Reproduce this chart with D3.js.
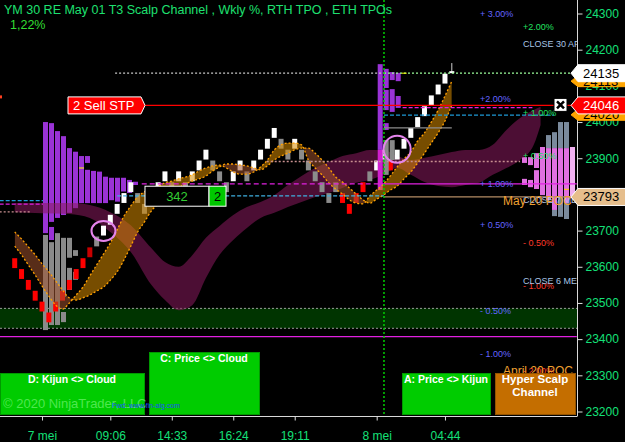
<!DOCTYPE html>
<html>
<head>
<meta charset="utf-8">
<script src="https://cdn.jsdelivr.net/npm/d3@7"></script>
<style>
    html, body { margin: 0; padding: 0; background: #000; }
    svg { display: block; font-family: Arial, "Liberation Sans", sans-serif; }
</style>
</head>
<body>
<script>
// ---------------- data ----------------
var yTicks = [24300, 24200, 24100, 24000, 23900, 23800, 23700, 23600, 23500, 23400, 23300, 23200]
var xTickBars = [4, 14, 23, 32, 41, 53, 63]
var xTickLabels = ['7 mei', '09:06', '14:33', '16:24', '19:11', '8 mei', '04:44']

// renko bricks, one per bar (bar 0 .. 64)
var brickLow = [23595, 23565, 23535, 23505, 23475, 23445, 23475, 23505, 23535, 23565,
    23595, 23625, 23655, 23685, 23715, 23745, 23775, 23805, 23775, 23745,
    23775, 23805, 23835, 23805, 23835, 23805, 23835, 23865, 23895, 23865,
    23835, 23805, 23835, 23865, 23835, 23865, 23895, 23925, 23955, 23925,
    23895, 23925, 23895, 23865, 23835, 23805, 23775, 23805, 23775, 23745,
    23775, 23805, 23835, 23865, 23895, 23865, 23895, 23925, 23955, 23985,
    24015, 24045, 24075, 24105, 24135]
var brickHigh = [23625, 23595, 23565, 23535, 23505, 23475, 23505, 23535, 23565, 23595,
    23625, 23655, 23685, 23715, 23745, 23775, 23805, 23835, 23805, 23775,
    23805, 23835, 23865, 23835, 23865, 23835, 23865, 23895, 23925, 23895,
    23865, 23835, 23865, 23895, 23865, 23895, 23925, 23955, 23985, 23955,
    23925, 23955, 23925, 23895, 23865, 23835, 23805, 23835, 23805, 23775,
    23805, 23835, 23865, 23895, 23925, 23895, 23925, 23955, 23985, 24015,
    24045, 24075, 24105, 24135, 24142]
var brickColor = ['r', 'r', 'r', 'r', 'r', 'r', 'r', 'r', 'r', 'r',
    'r', 'd', 'g', 'w', 'w', 'w', 'w', 'w', 'g', 'g',
    'w', 'w', 'w', 'g', 'w', 'g', 'w', 'w', 'w', 'g',
    'g', 'g', 'w', 'w', 'g', 'w', 'w', 'w', 'w', 'g',
    'g', 'w', 'g', 'g', 'g', 'g', 'g', 'g', 'r', 'r',
    'r', 'r', 'g', 'w', 'w', 'r', 'w', 'w', 'w', 'w',
    'w', 'w', 'w', 'w', 'w']
var lastWickHigh = 24163

// scalp channel, two lines per bar
var band1 = [23657, 23633, 23605, 23577, 23547, 23519, 23494, 23483, 23500, 23522,
    23544, 23575, 23605, 23635, 23666, 23702, 23740, 23768, 23793, 23807,
    23818, 23823, 23832, 23837, 23843, 23848, 23854, 23865, 23873, 23879,
    23881, 23873, 23862, 23856, 23856, 23862, 23876, 23895, 23923, 23937,
    23942, 23942, 23937, 23895, 23873, 23854, 23832, 23815, 23801, 23785,
    23776, 23774, 23796, 23812, 23829, 23851, 23876, 23898, 23917, 23948,
    23970, 24000, 24033, 24072, 24113]
var band2 = [23696, 23677, 23655, 23633, 23608, 23586, 23561, 23536, 23514, 23508,
    23514, 23522, 23533, 23544, 23563, 23586, 23619, 23657, 23696, 23724,
    23754, 23774, 23793, 23807, 23818, 23829, 23837, 23843, 23851, 23865,
    23876, 23884, 23884, 23881, 23879, 23873, 23868, 23879, 23895, 23906,
    23914, 23923, 23928, 23928, 23914, 23895, 23873, 23848, 23834, 23818,
    23801, 23785, 23776, 23787, 23798, 23812, 23823, 23843, 23862, 23887,
    23914, 23942, 23970, 24003, 24047]

// cloud: bar, span A, span B
var cloudBars = [0, 4, 8, 11, 14, 17, 20, 22, 24, 26, 28, 30, 32, 34, 36, 38, 40, 42, 44, 46,
    48, 50, 52, 54, 56, 58, 60, 62, 64, 66, 68, 70, 72, 74, 76, 77]
var cloudA = [23776, 23776, 23776, 23771, 23751, 23715, 23652, 23613, 23600, 23632,
    23680, 23713, 23743, 23765, 23779, 23798, 23826, 23851, 23873, 23890,
    23906, 23914, 23923, 23923, 23906, 23895, 23901, 23909, 23917, 23923,
    23923, 23937, 23978, 24011, 24033, 24042]
var cloudB = [23751, 23748, 23746, 23735, 23696, 23641, 23550, 23508, 23480, 23494,
    23569, 23633, 23674, 23707, 23735, 23749, 23765, 23779, 23793, 23804,
    23818, 23832, 23840, 23854, 23873, 23854, 23834, 23823, 23820, 23826,
    23832, 23854, 23873, 23895, 23937, 23992]

// tpo profiles: [column, top, bottom, kind]
var leftProfile = [
    [0, 24000, 23693, 'p'], [0, 23688, 23425, 'g'],
    [1, 23997, 23724, 'p'], [1, 23710, 23674, 'p'], [1, 23668, 23439, 'g'],
    [2, 23975, 23735, 'p'], [2, 23693, 23439, 'g'],
    [3, 23961, 23743, 'p'], [3, 23680, 23517, 'g'], [3, 23475, 23447, 'g'],
    [4, 23928, 23749, 'p'], [4, 23680, 23625, 'g'], [4, 23597, 23536, 'g'],
    [5, 23918, 23762, 'p'], [5, 23646, 23630, 'g'], [5, 23586, 23564, 'g'],
    [6, 23906, 23776, 'p'],
    [7, 23906, 23887, 'p'], [7, 23868, 23776, 'p'],
    [8, 23865, 23776, 'p'], [9, 23863, 23776, 'p'], [10, 23849, 23776, 'p'],
    [11, 23846, 23784, 'p'], [12, 23846, 23780, 'p'], [13, 23846, 23808, 'p'],
    [14, 23840, 23804, 'p'], [15, 23835, 23826, 'p']
]
var rightProfile = [
    [0, 23903, 23887, 'l'], [0, 23843, 23826, 'l'],
    [1, 23903, 23881, 'l'], [1, 23840, 23820, 'l'],
    [2, 23914, 23873, 'l'], [2, 23867, 23815, 'l'],
    [3, 23931, 23798, 'l'],
    [4, 23964, 23928, 'b'], [4, 23928, 23784, 'l'],
    [5, 23972, 23928, 'b'], [5, 23928, 23757, 'l'], [5, 23757, 23740, 'b'],
    [6, 24000, 23928, 'b'], [6, 23928, 23793, 'l'], [6, 23793, 23738, 'b'],
    [7, 24000, 23928, 'b'], [7, 23928, 23776, 'l'], [7, 23776, 23732, 'b'],
    [8, 23931, 23790, 'w']
]
var topProfile = [
    [0, 24160, 23923, 'p'], [0, 23923, 23812, 'm'],
    [1, 24147, 24094, 'p'], [1, 24089, 24033, 'p'], [1, 23997, 23978, 'p'], [1, 23950, 23854, 'g'],
    [2, 24138, 24116, 'p'], [2, 24091, 24028, 'p'], [2, 23950, 23895, 'g'],
    [3, 24136, 24113, 'p'], [3, 24072, 24039, 'p']
]

// level lines: [price, from bar, to bar, colour, dash]
var levelLines = [
    [24135, 14.7, 54.07, '#c8c8c8', '2,2'],
    [24135, 54.07, 81.4, '#9cff9c', '2,2'],
    [24046, 19.1, 82.3, '#ff0000', null],
    [24040, 56.8, 75.8, '#e020e0', '4,2'],
    [24019, 54.07, 79, '#1e9ad6', '4,2'],
    [23984, 54.07, 64, '#8c8c8c', null],
    [23891, 36.9, 74, '#c89090', '2,2'],
    [23829, 18.6, 54.07, '#e020e0', '5,3'],
    [23829, 54.07, 82.3, '#e020e0', null],
    [23796, 15, 54.07, '#3fb0e0', '4,2'],
    [23793, 54.07, 82.3, '#b48c64', null],
    [23783, -2.2, 4.14, '#1e9ad6', '4,2'],
    [23773, -2.2, 4.14, '#e020e0', '4,2'],
    [23752, -2.2, 2.2, '#c89090', '2,2'],
    [23407, -2.2, 82.3, '#e020e0', null]
]
var zoneTop = 23485, zoneBottom = 23430

// weekly % and close labels: [price, text, kind]
var pctLabels = [
    [24300, '+ 3.00%', 'b'], [24065, '+2.00%', 'b'], [23830, '+ 1.00%', 'b'],
    [23716, '+ 0.50%', 'b'], [23478, '- 0.50%', 'b'], [23359, '- 1.00%', 'b'],
    [24263, '+2.00%', 'g'], [24024, '+ 1.00%', 'g'], [23905, '+ 0.50%', 'g'],
    [23666, '- 0.50%', 'r'], [23547, '- 1.00%', 'r'], [23312, '- 2.00%', 'r'],
    [24216, 'CLOSE 30 APR', 'c'], [23785, 'CLOSE 7 MEI', 'c'], [23561, 'CLOSE 6 MEI', 'c']
]
var pocLabels = [[23782, 'May 20 POC'], [23312, 'April 20 POC']]

// price tags on the axis: [price, fill, text colour]
var priceTags = [
    [24113, '#ffa500', '#000'], [24020, '#ffa500', '#000'],
    [24135, '#ffffff', '#000'], [24046, '#ff0000', '#fff'], [23793, '#e6be8c', '#000']
]
var signalMarks = [[13, 23699, 12, 10], [56, 23925, 13.5, 13.5]]
var sessionBreak = 54.07

// ---------------- chart ----------------
var W = 625, H = 442, plotW = 577, plotH = 416

var xScale = d3.scaleLinear().domain([0, 64]).range([14.7, 451.8])
var yScale = d3.scaleLinear().domain([23200, 24300]).range([411.5, 13.5])
var colLeft = d3.scaleLinear().domain([0, 1]).range([43, 49])
var colRight = d3.scaleLinear().domain([0, 1]).range([522, 528])
var colTop = d3.scaleLinear().domain([0, 1]).range([377.7, 383.7])

var svg = d3.select('body').append('svg').attr('width', W).attr('height', H)
svg.append('rect').attr('width', W).attr('height', H).attr('fill', '#000')

var defs = svg.append('defs')
defs.append('clipPath').attr('id', 'plotclip')
    .append('rect').attr('width', plotW).attr('height', plotH)

var bars = d3.range(band1.length)
defs.append('clipPath').attr('id', 'clipAbove').append('path')
    .attr('d', d3.area().curve(d3.curveMonotoneX).x(i => xScale(i)).y0(0).y1(i => yScale(band1[i]))(bars))
defs.append('clipPath').attr('id', 'clipBelow').append('path')
    .attr('d', d3.area().curve(d3.curveMonotoneX).x(i => xScale(i)).y0(plotH).y1(i => yScale(band1[i]))(bars))

var plot = svg.append('g').attr('clip-path', 'url(#plotclip)')

// green zone
plot.append('rect')
    .attr('x', 0).attr('width', plotW)
    .attr('y', yScale(zoneTop)).attr('height', yScale(zoneBottom) - yScale(zoneTop))
    .attr('fill', '#003400')
;[zoneTop, zoneBottom].forEach(p => {
    plot.append('line').attr('x1', 0).attr('x2', plotW)
        .attr('y1', yScale(p)).attr('y2', yScale(p))
        .attr('stroke', '#9a9a9a').attr('stroke-dasharray', '2,2')
})

// profiles
var profColors = { p: '#9a33d6', g: '#8a8a8a', l: '#e070e0', b: '#7a8a9c', w: '#f0b0f0', m: '#d020d0' }
function drawProfile(data, xs) {
    plot.append('g').selectAll('rect').data(data).enter().append('rect')
        .attr('x', d => xs(d[0]))
        .attr('width', 5)
        .attr('y', d => yScale(d[1]))
        .attr('height', d => Math.max(1, yScale(d[2]) - yScale(d[1])))
        .attr('fill', d => profColors[d[3]])
}
drawProfile(leftProfile, colLeft)
drawProfile(rightProfile, colRight)

// cloud
var cloudArea = d3.area().curve(d3.curveMonotoneX)
    .x((d, i) => xScale(cloudBars[i]))
    .y0((d, i) => yScale(cloudA[i]))
    .y1((d, i) => yScale(cloudB[i]))
plot.append('path').attr('d', cloudArea(cloudBars))
    .attr('fill', '#8b1a5e').attr('opacity', 0.55)

// candles
var candleColors = { r: '#ff0000', d: '#c80000', g: '#8c8c8c', w: '#ffffff' }
plot.append('line')
    .attr('x1', xScale(64)).attr('x2', xScale(64))
    .attr('y1', yScale(lastWickHigh)).attr('y2', yScale(brickLow[64]))
    .attr('stroke', '#cfcfcf')
plot.append('g').selectAll('rect').data(bars).enter().append('rect')
    .attr('x', i => xScale(i) - 2.5)
    .attr('width', 5)
    .attr('y', i => yScale(brickHigh[i]) + 0.5)
    .attr('height', i => Math.max(2, yScale(brickLow[i]) - yScale(brickHigh[i]) - 1))
    .attr('fill', i => candleColors[brickColor[i]])

drawProfile(topProfile, colTop)

// scalp channel
var bandArea = d3.area().curve(d3.curveMonotoneX)
    .x(i => xScale(i)).y0(i => yScale(band1[i])).y1(i => yScale(band2[i]))
plot.append('path').attr('d', bandArea(bars)).attr('clip-path', 'url(#clipBelow)')
    .attr('fill', '#d98c00').attr('opacity', 0.55)
plot.append('path').attr('d', bandArea(bars)).attr('clip-path', 'url(#clipAbove)')
    .attr('fill', '#a0522d').attr('opacity', 0.55)
;[band1, band2].forEach(arr => {
    plot.append('path')
        .attr('d', d3.line().curve(d3.curveMonotoneX).x(i => xScale(i)).y(i => yScale(arr[i]))(bars))
        .attr('fill', 'none').attr('stroke', '#ffa000').attr('stroke-width', 1.3)
        .attr('stroke-dasharray', '2,2')
})

// level lines
plot.append('g').selectAll('line').data(levelLines).enter().append('line')
    .attr('x1', d => xScale(d[1])).attr('x2', d => xScale(d[2]))
    .attr('y1', d => yScale(d[0])).attr('y2', d => yScale(d[0]))
    .attr('stroke', d => d[3]).attr('stroke-width', 1.3)
    .attr('stroke-dasharray', d => d[4])

// session break
plot.append('line')
    .attr('x1', xScale(sessionBreak)).attr('x2', xScale(sessionBreak))
    .attr('y1', 0).attr('y2', plotH)
    .attr('stroke', '#00d000').attr('stroke-width', 1.5).attr('stroke-dasharray', '2,2')

// poc markers
plot.append('line').attr('x1', colLeft(6)).attr('x2', colLeft(6) + 5)
    .attr('y1', yScale(23873)).attr('y2', yScale(23873)).attr('stroke', '#ffff00')
plot.append('line').attr('x1', colTop(4)).attr('x2', colTop(4) + 5)
    .attr('y1', yScale(24135)).attr('y2', yScale(24135)).attr('stroke', '#ffff00')
plot.append('line').attr('x1', colRight(7)).attr('x2', colRight(7) + 5)
    .attr('y1', yScale(23814)).attr('y2', yScale(23814)).attr('stroke', '#ffd000')

// signal circles
plot.append('g').selectAll('ellipse').data(signalMarks).enter().append('ellipse')
    .attr('cx', d => xScale(d[0])).attr('cy', d => yScale(d[1]))
    .attr('rx', d => d[2]).attr('ry', d => d[3])
    .attr('fill', 'none').attr('stroke', '#e484ec').attr('stroke-width', 2)

// percent labels
var pctColors = { b: '#6464ff', g: '#22e060', r: '#ff3a2a', c: '#a8c4e4' }
plot.append('g').selectAll('text').data(pctLabels).enter().append('text')
    .attr('x', d => d[2] == 'b' ? 480 : 523)
    .attr('y', d => yScale(d[0]) + 3)
    .attr('fill', d => pctColors[d[2]])
    .style('font-size', '9px')
    .text(d => d[1])
plot.append('g').selectAll('text').data(pocLabels).enter().append('text')
    .attr('x', 503).attr('y', d => yScale(d[0]) + 4)
    .attr('fill', '#f0a030').style('font-size', '12px')
    .text(d => d[1])

// order label
var ySell = yScale(24046)
plot.append('path')
    .attr('d', `M68,${ySell - 8.5} H141 L145,${ySell} L141,${ySell + 8.5} H68 Z`)
    .attr('fill', '#ff0000').attr('stroke', '#fff')
plot.append('text').attr('x', 73).attr('y', ySell + 4.5)
    .attr('fill', '#fff').style('font-size', '13px').text('2 Sell STP')
plot.append('rect').attr('x', 0).attr('y', ySell - 10).attr('width', 2).attr('height', 3).attr('fill', '#ff4020')

// close button on order line
plot.append('rect').attr('x', 554).attr('y', ySell - 7).attr('width', 13).attr('height', 13)
    .attr('fill', '#fff').attr('stroke', '#000').attr('stroke-width', 1)
plot.append('path')
    .attr('d', `M557,${ySell - 4} L564,${ySell + 3} M564,${ySell - 4} L557,${ySell + 3}`)
    .attr('stroke', '#000').attr('stroke-width', 2.5)

// counter box
var yBox = yScale(23795)
plot.append('rect').attr('x', 145).attr('y', yBox - 10).attr('width', 64).attr('height', 20)
    .attr('fill', '#000').attr('stroke', '#fff')
plot.append('text').attr('x', 177).attr('y', yBox + 5).attr('text-anchor', 'middle')
    .attr('fill', '#33cc33').style('font-size', '13px').text('342')
plot.append('rect').attr('x', 209).attr('y', yBox - 10).attr('width', 17).attr('height', 20)
    .attr('fill', '#00c800').attr('stroke', '#fff')
plot.append('text').attr('x', 217.5).attr('y', yBox + 5).attr('text-anchor', 'middle')
    .attr('fill', '#000').style('font-size', '13px').text('2')

// signal boxes
var boxes = [
    { x: 0, y: 373, w: 144, h: 41, fill: '#00cc00', lines: ['D: Kijun <> Cloud'] },
    { x: 149, y: 352, w: 110, h: 62, fill: '#00cc00', lines: ['C: Price <> Cloud'] },
    { x: 402, y: 373, w: 88, h: 41, fill: '#00cc00', lines: ['A: Price <> Kijun'] },
    { x: 495, y: 373, w: 80, h: 41, fill: '#c46e00', lines: ['Hyper Scalp', 'Channel'] }
]
boxes.forEach(b => {
    plot.append('rect').attr('x', b.x + 0.5).attr('y', b.y + 0.5).attr('width', b.w).attr('height', b.h)
        .attr('fill', b.fill).attr('stroke', d3.color(b.fill).darker(0.8))
    b.lines.forEach((t, k) => {
        plot.append('text').attr('x', b.x + b.w / 2).attr('y', b.y + 10 + k * 13)
            .attr('text-anchor', 'middle').attr('fill', '#fff')
            .style('font-size', b.lines.length > 1 ? '11.5px' : '10.5px').style('font-weight', 'bold')
            .text(t)
    })
})
plot.append('text').attr('x', 3).attr('y', 408)
    .attr('fill', '#8fff8f').attr('opacity', 0.55).style('font-size', '13px')
    .text('\u00a9 2020 NinjaTrader, LLC')
plot.append('text').attr('x', 112).attr('y', 408)
    .attr('fill', '#1a4dff').style('font-size', '7px')
    .text('Fwd:   www.fin-alg.com')

// axes
svg.append('line').attr('x1', 0).attr('x2', plotW).attr('y1', plotH + 0.5).attr('y2', plotH + 0.5)
    .attr('stroke', '#d8d8d8')
svg.append('line').attr('x1', plotW + 0.5).attr('x2', plotW + 0.5).attr('y1', 0).attr('y2', plotH + 0.5)
    .attr('stroke', '#d8d8d8')

var gy = svg.append('g').attr('transform', 'translate(' + (plotW + 0.5) + ',0)')
    .call(d3.axisRight(yScale).tickValues(yTicks).tickSize(5).tickPadding(3).tickFormat(d3.format('d')))
gy.select('.domain').remove()
gy.selectAll('line').attr('stroke', '#e0e0e0')
gy.selectAll('text').attr('fill', '#14e078').style('font-size', '12px').style('font-family', 'Arial, "Liberation Sans", sans-serif')

var gx = svg.append('g').attr('transform', 'translate(0,' + (plotH + 0.5) + ')')
    .call(d3.axisBottom(xScale).tickValues(xTickBars).tickSize(4).tickPadding(10.5)
        .tickFormat((d, i) => xTickLabels[i]))
gx.select('.domain').remove()
gx.selectAll('line').attr('stroke', '#e0e0e0')
gx.selectAll('text').attr('fill', '#14e078').style('font-size', '12px').style('font-family', 'Arial, "Liberation Sans", sans-serif')

// price tags
priceTags.forEach(t => {
    var yc = yScale(t[0]), h = t[1] == '#ffa500' ? 11 : 17
    svg.append('path')
        .attr('d', `M571,${yc} L578,${yc - h / 2} L626,${yc - h / 2} L626,${yc + h / 2} L578,${yc + h / 2} Z`)
        .attr('fill', t[1]).attr('stroke', t[1] == '#ffa500' ? '#ffa500' : '#fff')
    svg.append('text').attr('x', 583).attr('y', yc + 4.5)
        .attr('fill', t[2]).style('font-size', '13px').text(t[0])
})

// title
svg.append('text').attr('x', 4).attr('y', 14).attr('fill', '#1ee070').style('font-size', '12.5px')
    .text('YM 30 RE May 01 T3 Scalp Channel , Wkly %, RTH TPO , ETH TPOs')
svg.append('text').attr('x', 10).attr('y', 29).attr('fill', '#33dd33').style('font-size', '12.5px')
    .text('1,22%')
</script>
</body>
</html>
